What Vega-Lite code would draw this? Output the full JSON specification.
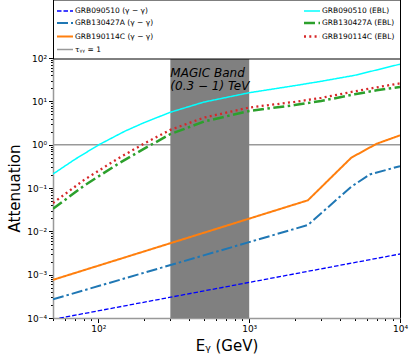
{
  "$schema": "https://vega.github.io/schema/vega-lite/v6.json",
  "width": 347,
  "height": 260,
  "autosize": {"type": "none"},
  "padding": {"left": 53, "top": 58, "right": 15, "bottom": 45},
  "background": "white",
  "config": {
    "font": "DejaVu Sans",
    "view": {"stroke": "black", "strokeWidth": 1},
    "axis": {
      "grid": false,
      "domainColor": "#999999",
      "domainWidth": 1.5,
      "tickColor": "black",
      "tickWidth": 1,
      "labelColor": "black",
      "titleColor": "black",
      "labelFont": "DejaVu Sans",
      "labelFontSize": 9,
      "titleFont": "DejaVu Sans",
      "titleFontSize": 15,
      "titleFontWeight": "normal",
      "labelOverlap": false,
      "labelFlush": false,
      "labelBound": false,
      "zindex": 1
    },
    "legend": {
      "orient": "none",
      "legendX": 0,
      "legendY": -58.5,
      "columns": 2,
      "columnPadding": 144,
      "rowPadding": 1.5,
      "padding": 5,
      "strokeColor": "black",
      "fillColor": "white",
      "labelFont": "DejaVu Sans",
      "labelFontSize": 7.5,
      "labelColor": "black",
      "labelLimit": 300,
      "symbolType": "M-1.393,0H1.393",
      "symbolSize": 132,
      "labelOffset": 3
    }
  },
  "datasets": {
    "curves": [
      {"series": "GRB090510 (γ − γ)", "E": 50, "A": 0.000093},
      {"series": "GRB090510 (γ − γ)", "E": 10000, "A": 0.0030},
      {"series": "GRB130427A (γ − γ)", "E": 50, "A": 0.00027},
      {"series": "GRB130427A (γ − γ)", "E": 2450, "A": 0.0140},
      {"series": "GRB130427A (γ − γ)", "E": 4750, "A": 0.107},
      {"series": "GRB130427A (γ − γ)", "E": 6300, "A": 0.205},
      {"series": "GRB130427A (γ − γ)", "E": 10000, "A": 0.32},
      {"series": "GRB190114C (γ − γ)", "E": 50, "A": 0.00076},
      {"series": "GRB190114C (γ − γ)", "E": 2450, "A": 0.052},
      {"series": "GRB190114C (γ − γ)", "E": 4750, "A": 0.50},
      {"series": "GRB190114C (γ − γ)", "E": 7000, "A": 1.05},
      {"series": "GRB190114C (γ − γ)", "E": 10000, "A": 1.64},
      {"series": "GRB090510 (EBL)", "E": 50, "A": 0.21},
      {"series": "GRB090510 (EBL)", "E": 70, "A": 0.46},
      {"series": "GRB090510 (EBL)", "E": 101, "A": 1.0},
      {"series": "GRB090510 (EBL)", "E": 150, "A": 2.05},
      {"series": "GRB090510 (EBL)", "E": 200, "A": 3.2},
      {"series": "GRB090510 (EBL)", "E": 300, "A": 5.6},
      {"series": "GRB090510 (EBL)", "E": 500, "A": 9.6},
      {"series": "GRB090510 (EBL)", "E": 1000, "A": 15.8},
      {"series": "GRB090510 (EBL)", "E": 2000, "A": 23},
      {"series": "GRB090510 (EBL)", "E": 3000, "A": 29},
      {"series": "GRB090510 (EBL)", "E": 5000, "A": 39.8},
      {"series": "GRB090510 (EBL)", "E": 7000, "A": 53},
      {"series": "GRB090510 (EBL)", "E": 10000, "A": 72},
      {"series": "GRB130427A (EBL)", "E": 50, "A": 0.033},
      {"series": "GRB130427A (EBL)", "E": 80, "A": 0.112},
      {"series": "GRB130427A (EBL)", "E": 135, "A": 0.36},
      {"series": "GRB130427A (EBL)", "E": 200, "A": 0.80},
      {"series": "GRB130427A (EBL)", "E": 300, "A": 1.75},
      {"series": "GRB130427A (EBL)", "E": 500, "A": 3.4},
      {"series": "GRB130427A (EBL)", "E": 1000, "A": 6.0},
      {"series": "GRB130427A (EBL)", "E": 2000, "A": 8.2},
      {"series": "GRB130427A (EBL)", "E": 3000, "A": 10.2},
      {"series": "GRB130427A (EBL)", "E": 5000, "A": 14.5},
      {"series": "GRB130427A (EBL)", "E": 7000, "A": 18},
      {"series": "GRB130427A (EBL)", "E": 10000, "A": 21.5},
      {"series": "GRB190114C (EBL)", "E": 50, "A": 0.045},
      {"series": "GRB190114C (EBL)", "E": 80, "A": 0.152},
      {"series": "GRB190114C (EBL)", "E": 135, "A": 0.48},
      {"series": "GRB190114C (EBL)", "E": 200, "A": 1.05},
      {"series": "GRB190114C (EBL)", "E": 300, "A": 2.2},
      {"series": "GRB190114C (EBL)", "E": 500, "A": 4.2},
      {"series": "GRB190114C (EBL)", "E": 1000, "A": 7.2},
      {"series": "GRB190114C (EBL)", "E": 2000, "A": 9.7},
      {"series": "GRB190114C (EBL)", "E": 3000, "A": 12},
      {"series": "GRB190114C (EBL)", "E": 5000, "A": 17},
      {"series": "GRB190114C (EBL)", "E": 7000, "A": 21},
      {"series": "GRB190114C (EBL)", "E": 10000, "A": 26}
    ],
    "tau": [
      {"series": "τᵧᵧ = 1", "E": 50, "A": 1},
      {"series": "τᵧᵧ = 1", "E": 10000, "A": 1}
    ],
    "band": [
      {"E": 300, "E2": 1000, "A": 0.0001, "A2": 100}
    ],
    "labels": [
      {"E": 300, "A": 36.5, "text": "MAGIC Band"},
      {"E": 300, "A": 18.3, "text": "(0.3 − 1) TeV"}
    ]
  },
  "encoding": {
    "x": {
      "field": "E",
      "type": "quantitative",
      "scale": {"type": "log", "domain": [50, 10000], "nice": false},
      "axis": {
        "title": "Eᵧ (GeV)",
        "values": [50, 60, 70, 80, 90, 100, 200, 300, 400, 500, 600, 700, 800, 900, 1000, 2000, 3000, 4000, 5000, 6000, 7000, 8000, 9000, 10000],
        "labelExpr": "abs(log(datum.value)/LN10 - round(log(datum.value)/LN10)) < 0.001 ? '10' + replace(replace(replace(replace(replace(replace('' + round(log(datum.value)/LN10), '-', '⁻'), '0', '⁰'), '1', '¹'), '2', '²'), '3', '³'), '4', '⁴') : ''",
        "tickSize": {"condition": {"test": "abs(log(datum.value)/LN10 - round(log(datum.value)/LN10)) < 0.001", "value": 4.5}, "value": 2.5},
        "labelPadding": 2,
        "titlePadding": 5
      }
    },
    "y": {
      "field": "A",
      "type": "quantitative",
      "scale": {"type": "log", "domain": [0.0001, 100], "nice": false},
      "axis": {
        "title": "Attenuation",
        "values": [0.0001, 0.0002, 0.0003, 0.0004, 0.0005, 0.0006, 0.0007, 0.0008, 0.0009, 0.001, 0.002, 0.003, 0.004, 0.005, 0.006, 0.007, 0.008, 0.009, 0.01, 0.02, 0.03, 0.04, 0.05, 0.06, 0.07, 0.08, 0.09, 0.1, 0.2, 0.3, 0.4, 0.5, 0.6, 0.7, 0.8, 0.9, 1, 2, 3, 4, 5, 6, 7, 8, 9, 10, 20, 30, 40, 50, 60, 70, 80, 90, 100],
        "labelExpr": "abs(log(datum.value)/LN10 - round(log(datum.value)/LN10)) < 0.001 ? '10' + replace(replace(replace(replace(replace(replace('' + round(log(datum.value)/LN10), '-', '⁻'), '0', '⁰'), '1', '¹'), '2', '²'), '3', '³'), '4', '⁴') : ''",
        "tickSize": {"condition": {"test": "abs(log(datum.value)/LN10 - round(log(datum.value)/LN10)) < 0.001", "value": 4.5}, "value": 2.5},
        "labelPadding": 2,
        "titlePadding": 4
      }
    }
  },
  "layer": [
    {
      "data": {"name": "tau"},
      "mark": {"type": "line", "clip": true},
      "encoding": {
        "color": {
          "field": "series", "type": "nominal", "title": null,
          "scale": {
            "domain": ["GRB090510 (γ − γ)", "GRB130427A (γ − γ)", "GRB190114C (γ − γ)", "τᵧᵧ = 1", "GRB090510 (EBL)", "GRB130427A (EBL)", "GRB190114C (EBL)"],
            "range": ["#0000ff", "#1f77b4", "#ff7f0e", "#999999", "#00ffff", "#2ca02c", "#d62728"]
          }
        },
        "strokeDash": {
          "field": "series", "type": "nominal", "title": null,
          "scale": {
            "domain": ["GRB090510 (γ − γ)", "GRB130427A (γ − γ)", "GRB190114C (γ − γ)", "τᵧᵧ = 1", "GRB090510 (EBL)", "GRB130427A (EBL)", "GRB190114C (EBL)"],
            "range": [[4.5, 2], [11, 3, 2.5, 3], [1, 0], [1, 0], [1, 0], [11, 3.5, 2.5, 3.5], [2, 3.3]]
          }
        },
        "strokeWidth": {
          "field": "series", "type": "nominal", "title": null,
          "scale": {
            "type": "ordinal",
            "domain": ["GRB090510 (γ − γ)", "GRB130427A (γ − γ)", "GRB190114C (γ − γ)", "τᵧᵧ = 1", "GRB090510 (EBL)", "GRB130427A (EBL)", "GRB190114C (EBL)"],
            "range": [1.3, 2, 2, 1.5, 1.5, 2.5, 2.3]
          }
        }
      }
    },
    {
      "data": {"name": "band"},
      "mark": {"type": "rect", "color": "#808080", "opacity": 1},
      "encoding": {
        "x2": {"field": "E2"},
        "y2": {"field": "A2"}
      }
    },
    {
      "data": {"name": "curves"},
      "mark": {"type": "line", "clip": true},
      "encoding": {
        "color": {
          "field": "series", "type": "nominal", "title": null,
          "scale": {
            "domain": ["GRB090510 (γ − γ)", "GRB130427A (γ − γ)", "GRB190114C (γ − γ)", "τᵧᵧ = 1", "GRB090510 (EBL)", "GRB130427A (EBL)", "GRB190114C (EBL)"],
            "range": ["#0000ff", "#1f77b4", "#ff7f0e", "#999999", "#00ffff", "#2ca02c", "#d62728"]
          }
        },
        "strokeDash": {
          "field": "series", "type": "nominal", "title": null,
          "scale": {
            "domain": ["GRB090510 (γ − γ)", "GRB130427A (γ − γ)", "GRB190114C (γ − γ)", "τᵧᵧ = 1", "GRB090510 (EBL)", "GRB130427A (EBL)", "GRB190114C (EBL)"],
            "range": [[4.5, 2], [11, 3, 2.5, 3], [1, 0], [1, 0], [1, 0], [11, 3.5, 2.5, 3.5], [2, 3.3]]
          }
        },
        "strokeWidth": {
          "field": "series", "type": "nominal", "title": null,
          "scale": {
            "type": "ordinal",
            "domain": ["GRB090510 (γ − γ)", "GRB130427A (γ − γ)", "GRB190114C (γ − γ)", "τᵧᵧ = 1", "GRB090510 (EBL)", "GRB130427A (EBL)", "GRB190114C (EBL)"],
            "range": [1.3, 2, 2, 1.5, 1.5, 2.5, 2.3]
          }
        }
      }
    },
    {
      "data": {"name": "labels"},
      "mark": {"type": "text", "align": "left", "baseline": "alphabetic", "fontSize": 12, "fontStyle": "italic", "color": "black", "font": "DejaVu Sans"},
      "encoding": {
        "text": {"field": "text"}
      }
    }
  ]
}
